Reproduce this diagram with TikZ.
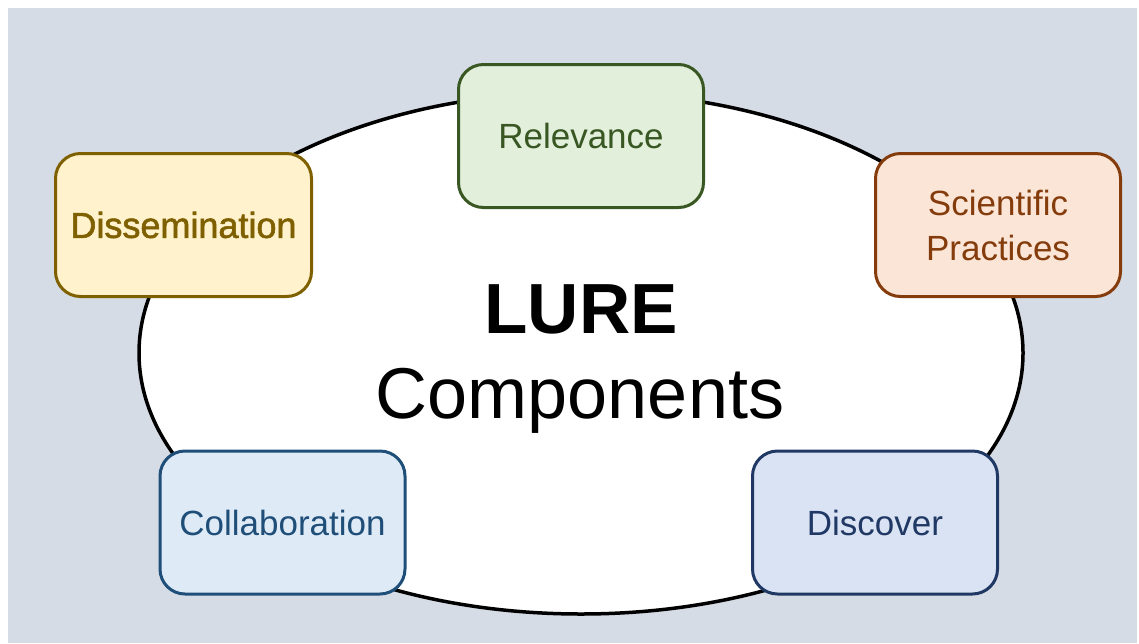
\documentclass[tikz,border=0pt]{standalone}
\usepackage{fontspec}
\setmainfont{Liberation Sans}
\newfontfamily\heavyfont[FakeBold=1.6]{Liberation Sans}
\usetikzlibrary{shapes.geometric}
\definecolor{backgray}{HTML}{D6DCE5}
\definecolor{relfill}{HTML}{E2EFDA}
\definecolor{reldraw}{HTML}{385723}
\definecolor{disfill}{HTML}{FFF2CC}
\definecolor{disdraw}{HTML}{7F6000}
\definecolor{scifill}{HTML}{FBE5D6}
\definecolor{scidraw}{HTML}{843C0C}
\definecolor{colfill}{HTML}{DEEBF7}
\definecolor{coldraw}{HTML}{1F4E79}
\definecolor{discfill}{HTML}{DAE3F3}
\definecolor{discdraw}{HTML}{203864}

\begin{document}
\begin{tikzpicture}[x=1pt,y=-1pt,
    part/.style={draw=#1,text=#1,rounded corners=25pt,line width=3pt,
        minimum width=245pt,minimum height=143pt,inner sep=0pt,align=center,
        font=\fontsize{35}{45}\selectfont},
    ring/.style={draw=black,fill=white,ellipse,line width=3.5pt,
        minimum width=884pt,minimum height=522pt,inner sep=0pt}]
        \useasboundingbox (0,0) rectangle (1139,643);
        \fill[white] (0,0) rectangle (1139,643);
        \fill[backgray] (8,8) rectangle (1137,643);
        \node[ring] (oval) at (581,353) {};
        \node[anchor=base,font=\fontsize{71}{85}\selectfont\bfseries] (lure) at (581,333) {LURE};
        \node[anchor=base,font=\fontsize{72}{85}\selectfont] (comp) at (580,418) {Components};
        \node[part=reldraw,fill=relfill] (rel) at (581,136) {Relevance};
        \node[part=disdraw,fill=disfill,minimum width=256pt,
            font=\heavyfont\fontsize{36}{45}\selectfont] (dis) at (183.5,225) {Dissemination};
        \node[part=scidraw,fill=scifill] (sci) at (998,225) {Scientific\\Practices};
        \node[part=coldraw,fill=colfill] (col) at (282.5,522.5) {Collaboration};
        \node[part=discdraw,fill=discfill] (disc) at (875,522.5) {Discover};
    \end{tikzpicture}
\end{document}
